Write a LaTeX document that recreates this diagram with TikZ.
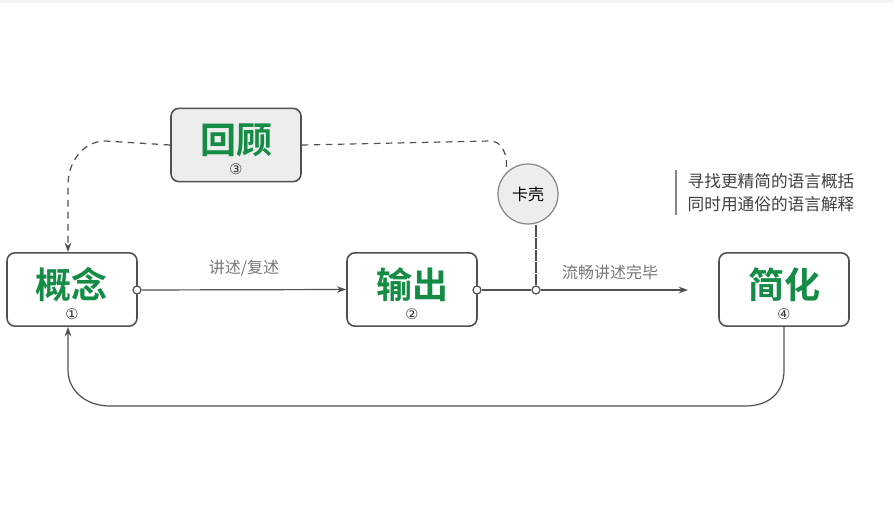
\documentclass[tikz,border=0pt]{standalone}
\usepackage{fontspec}
\newfontfamily\cjk{Noto Sans CJK SC}
\newfontfamily\cjkb{Noto Sans CJK SC Bold}
\newfontfamily\sym{DejaVu Sans}
\usetikzlibrary{arrows.meta}
\definecolor{grn}{RGB}{20,140,70}
\definecolor{bd}{RGB}{80,80,80}
\definecolor{lbl}{RGB}{120,120,120}
\tikzset{
 box/.style={draw=bd,line width=1.2pt,rounded corners=6pt,minimum width=97.5pt,minimum height=55pt,fill=white},
 conn/.style={draw=bd,line width=0.9pt,-{Stealth[length=7pt,width=5pt]}},
 dconn/.style={draw=bd,line width=0.9pt,dash pattern=on 5pt off 4pt},
 dot/.style={circle,draw=bd,fill=white,line width=0.9pt,inner sep=0pt,minimum size=6pt},
 big/.style={font=\cjkb\fontsize{27}{27}\selectfont,text=grn},
 num/.style={font=\sym\fontsize{11}{11}\selectfont,text=black!80},
 lab/.style={font=\cjk\fontsize{12}{12}\selectfont,text=lbl}
}
\begin{document}
\begin{tikzpicture}[x=0.75pt,y=-0.75pt]
\useasboundingbox[fill=white] (0,0) rectangle (893,528);
\fill[black!5] (0,0) rectangle (893,3);
\node[box] (gn) at (72,289.5) {};
\node[box] (sc) at (412,289.5) {};
\node[box] (jh) at (784,289.5) {};
\node[box,fill=black!7] (hg) at (236,145) {};
\node[big] at (72,285) {概念}; \node[num] at (72,314) {①};
\node[big] at (412,285) {输出}; \node[num] at (412,314) {②};
\node[big] at (784,285) {简化}; \node[num] at (784,314) {④};
\node[big] at (236,140) {回顾}; \node[num] at (236,169) {③};
\node[circle,draw=bd!70,fill=black!7,line width=0.9pt,minimum size=45pt,font=\cjk\fontsize{12}{12}\selectfont] (kk) at (528,194) {卡壳};
\node[dot] (d1) at (137,290) {};
\node[dot] (d2) at (477,290) {};
\node[dot] (d3) at (536,290) {};
\coordinate (e1) at (688,290);
\draw[conn] (d1) -- (sc.west) node[midway,above=6pt,lab] {讲述/复述};
\draw[conn] (d2) -- (d3) -- (e1);
\node[lab] at (610,272) {流畅讲述完毕};
\draw[dconn] (kk.south) ++(8,1) |- (d3.north);
\draw[dconn] (d3.north) -- (536,225);
\draw[dconn] (hg.east) -- (490,141) .. controls (500,141) and (508,150) .. (kk.north west);
\draw[dconn,-{Stealth[length=7pt,width=5pt]}] (hg.west) -- (105,141) .. controls (85,141) and (68,160) .. (68,185) -- (gn.north-|68,0);
\draw[conn] (jh.south) -- (784,370) .. controls (784,392) and (770,406) .. (745,406) -- (110,406) .. controls (85,406) and (68,390) .. (68,370) -- (gn.south-|68,0);
\draw[bd!70,line width=0.8pt] (676,170) -- (676,215);
\node[anchor=west,font=\cjk\fontsize{12.5}{12.5}\selectfont,text=black!75] at (683,181) {寻找更精简的语言概括};
\node[anchor=west,font=\cjk\fontsize{12.5}{12.5}\selectfont,text=black!75] at (683,204) {同时用通俗的语言解释};
\end{tikzpicture}
\end{document}
